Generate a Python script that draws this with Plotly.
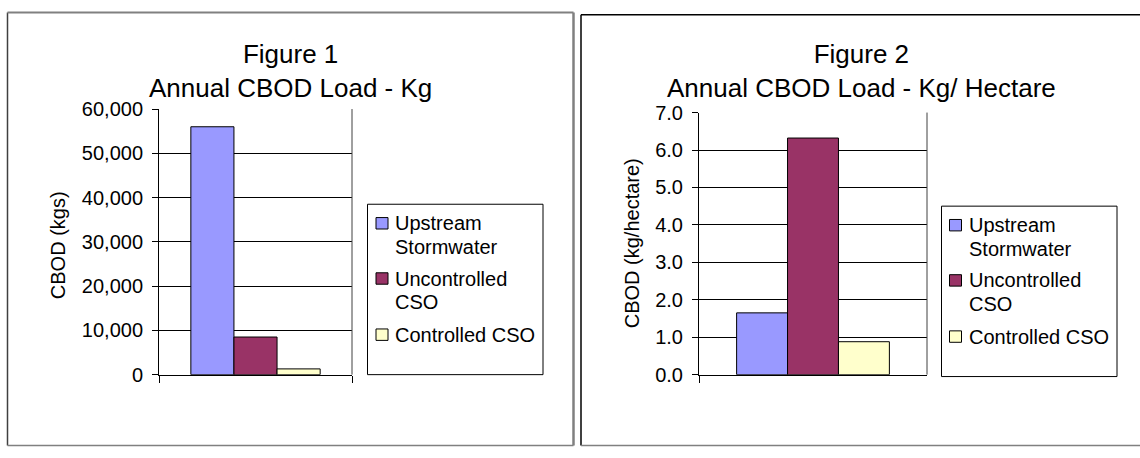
import plotly.graph_objects as go

# ---------------- data ----------------
series_names = ["Upstream Stormwater", "Uncontrolled CSO", "Controlled CSO"]
legend_lines = [["Upstream", "Stormwater"], ["Uncontrolled", "CSO"], ["Controlled CSO"]]
series_colors = ["#9999FF", "#993366", "#FFFFCC"]
category = ["Annual CBOD"]

load_kg = [56000, 8500, 1300]          # Figure 1: Annual CBOD Load - Kg
load_kg_per_ha = [1.65, 6.32, 0.88]    # Figure 2: Annual CBOD Load - Kg/Hectare

titles = ["Figure 1<br>Annual CBOD Load - Kg", "Figure 2<br>Annual CBOD Load - Kg/ Hectare"]
ytitles = ["CBOD (kgs)", "CBOD (kg/hectare)"]

# ---------------- layout helpers ----------------
W, H = 1140, 458
FONT = "Liberation Sans, Arial, sans-serif"


def px(x):
    return x / W


def py(y):
    return 1 - y / H


fig = go.Figure()

for i, name in enumerate(series_names):
    fig.add_trace(go.Bar(x=category, y=[load_kg[i]], name=name, marker_color=series_colors[i],
                         marker_line=dict(color="black", width=1), xaxis="x", yaxis="y",
                         showlegend=False, hovertemplate=name + ": %{y:,}<extra></extra>"))
for i, name in enumerate(series_names):
    fig.add_trace(go.Bar(x=category, y=[load_kg_per_ha[i]], name=name, marker_color=series_colors[i],
                         marker_line=dict(color="black", width=1), xaxis="x2", yaxis="y2",
                         showlegend=False, hovertemplate=name + ": %{y:.2f}<extra></extra>"))

# plot-area geometry (pixels)
plots = [
    dict(x0=159, x1=352, y0=103, y1=382),
    dict(x0=699, x1=927, y0=106.7, y1=382),
]

xcommon = dict(type="category", showticklabels=False, ticks="outside", tickson="boundaries",
               ticklen=7, tickcolor="black", tickwidth=1, showline=True, linecolor="black",
               linewidth=1, showgrid=False, zeroline=False, fixedrange=True)
ycommon = dict(ticks="outside", ticklen=6, tickcolor="black", tickwidth=1, showline=True,
               linecolor="black", linewidth=1, showgrid=True, gridcolor="black", gridwidth=1,
               zeroline=False, tickfont=dict(family=FONT, size=20, color="black"),
               ticklabelstandoff=5, fixedrange=True)

fig.update_layout(
    width=W, height=H,
    margin=dict(l=0, r=0, t=0, b=0),
    paper_bgcolor="white", plot_bgcolor="white",
    barmode="group", bargap=0.33, bargroupgap=0,
    showlegend=False,
    font=dict(family=FONT, size=20, color="black"),
    xaxis=dict(domain=[px(plots[0]["x0"]), px(plots[0]["x1"])], anchor="y", **xcommon),
    yaxis=dict(domain=[py(plots[0]["y1"]), py(plots[0]["y0"])], anchor="x",
               range=[0, 60000], dtick=10000, tickformat=",", **ycommon),
    xaxis2=dict(domain=[px(plots[1]["x0"]), px(plots[1]["x1"])], anchor="y2", **xcommon),
    yaxis2=dict(domain=[py(plots[1]["y1"]), py(plots[1]["y0"])], anchor="x2",
                range=[0, 7], dtick=1, tickformat=".1f", **ycommon),
)

shapes = []
annotations = []


def line(x0, y0, x1, y1, color, width):
    shapes.append(dict(type="line", xref="paper", yref="paper", x0=px(x0), y0=py(y0),
                       x1=px(x1), y1=py(y1), line=dict(color=color, width=width)))


# outer chart frames
line(7.5, 1.5, 7.5, 456.5, "#404040", 1.5)
line(7.5, 1.5, 573.5, 1.5, "#808080", 2)
line(573.5, 1.5, 573.5, 456.5, "#808080", 2.5)
line(7.5, 456.5, 573.5, 456.5, "#808080", 1.5)
line(581, 4, 581, 456.5, "black", 1.5)
line(581, 4, 1141, 4, "black", 1.5)
line(581, 456.5, 1141, 456.5, "#808080", 1.5)

# right border of plot areas
for k, ax in enumerate(["x", "x2"]):
    ya = "y" if k == 0 else "y2"
    shapes.append(dict(type="line", xref=ax + " domain", yref=ya + " domain", x0=1, x1=1, y0=0, y1=1,
                       line=dict(color="#404040", width=1)))

# chart titles
title_cx = [290.5, 861]
for k in range(2):
    annotations.append(dict(text=titles[k], xref="paper", yref="paper", x=px(title_cx[k]), y=py(63),
                            xanchor="center", yanchor="middle", showarrow=False, align="center",
                            font=dict(family=FONT, size=26, color="black")))

# y-axis titles
ytitle_pos = [(58, 246), (632, 244)]
for k in range(2):
    annotations.append(dict(text=ytitles[k], xref="paper", yref="paper", x=px(ytitle_pos[k][0]),
                            y=py(ytitle_pos[k][1]), xanchor="center", yanchor="middle",
                            textangle=-90, showarrow=False,
                            font=dict(family=FONT, size=20, color="black")))

# legends (box, swatches, labels)
legends = [
    dict(box=(367.5, 203, 543, 382), sw_x=376, txt_x=393, lines=[223, 248, 281, 306, 340]),
    dict(box=(941.5, 205, 1117, 384), sw_x=949.5, txt_x=967, lines=[225, 250, 283, 308, 342]),
]
for lg in legends:
    bx0, by0, bx1, by1 = lg["box"]
    shapes.append(dict(type="rect", xref="paper", yref="paper", x0=px(bx0), y0=py(by1), x1=px(bx1),
                       y1=py(by0), line=dict(color="black", width=1), fillcolor="white"))
    li = 0
    for s in range(len(series_names)):
        first_y = lg["lines"][li]
        shapes.append(dict(type="rect", xref="paper", yref="paper", x0=px(lg["sw_x"]),
                           x1=px(lg["sw_x"] + 12), y0=py(first_y + 6), y1=py(first_y - 6),
                           fillcolor=series_colors[s], line=dict(color="black", width=1)))
        for txt in legend_lines[s]:
            annotations.append(dict(text=txt, xref="paper", yref="paper", x=px(lg["txt_x"]),
                                    y=py(lg["lines"][li]), xanchor="left", yanchor="middle",
                                    showarrow=False, font=dict(family=FONT, size=20, color="black")))
            li += 1

fig.update_layout(shapes=shapes, annotations=annotations)
# remove the browser's default 8px body margin so the figure sits at the page origin
fig.write_html("out.html", config={"displayModeBar": False},
               post_script="document.body.style.margin='0px';")
